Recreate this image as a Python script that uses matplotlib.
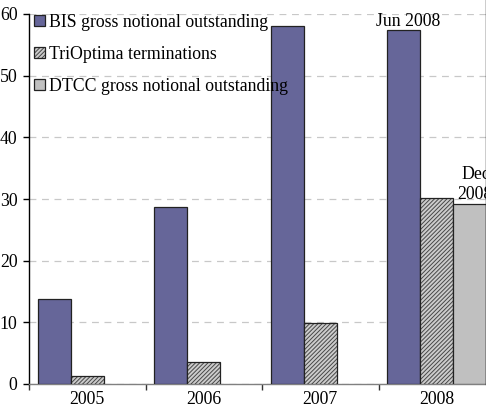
import matplotlib
matplotlib.use("Agg")
import matplotlib.pyplot as plt
import numpy as np
from matplotlib.lines import Line2D

plt.rcParams['font.family'] = ['Liberation Serif', 'DejaVu Serif']
plt.rcParams['hatch.linewidth'] = 0.7

years = ["2005", "2006", "2007", "2008"]
bis = [13.8, 28.7, 58.0, 57.4]
trioptima = [1.3, 3.6, 9.9, 30.2]
dtcc = [None, None, None, 29.2]
series_names = ["BIS gross notional outstanding", "TriOptima terminations",
                "DTCC gross notional outstanding"]
yticks = [0, 10, 20, 30, 40, 50, 60]

FS = 12.8

fig = plt.figure(figsize=(4.86, 4.17), dpi=100)
ax = fig.add_axes([29/486, 33/417, 466/486, 370/417])

x = np.arange(len(years))
w = 0.2833
b1 = ax.bar(x - w, bis, w, color='#666699', edgecolor='#222222', linewidth=0.9,
            label=series_names[0], zorder=3)
b2 = ax.bar(x, trioptima, w, color='#cccccc', edgecolor='#222222', linewidth=0.9,
            hatch='////////', label=series_names[1], zorder=3)
for p in b2:
    p._hatch_color = (0.28, 0.28, 0.28, 1.0)
dx = [i + w for i, v in enumerate(dtcc) if v is not None]
dv = [v for v in dtcc if v is not None]
b3 = ax.bar(dx, dv, w, color='#c0c0c0', edgecolor='#222222', linewidth=0.9,
            label=series_names[2], zorder=3)

ax.set_xlim(-0.5, 3.5)
ax.set_ylim(0, 60)
ax.set_yticks(yticks)
ax.set_yticklabels([str(t) for t in yticks], fontsize=FS)
ax.set_xticks(x)
ax.set_xticklabels(years, fontsize=FS)
ax.set_xticks(np.arange(-0.5, 3.6, 1.0), minor=True)
ax.tick_params(axis='x', which='major', length=0, pad=5)
ax.tick_params(axis='x', which='minor', length=4, width=1, color='#333333', direction='out')
ax.tick_params(axis='y', length=4.3, width=1, direction='out', pad=4)

ax.yaxis.grid(True, color='#c8c8c8', linestyle=(0, (5.5, 4.5)), linewidth=0.9, zorder=0)
ax.set_axisbelow(True)
for s in ['top', 'right']:
    ax.spines[s].set_visible(False)
ax.spines['left'].set_color('black')
ax.spines['left'].set_linewidth(1.0)
ax.spines['bottom'].set_color('#808080')
ax.spines['bottom'].set_linewidth(1.0)

ax.annotate("Jun 2008", xy=(3 - w, bis[3]), xytext=(3, 0), textcoords='offset points',
            ha='center', va='bottom', fontsize=FS)
ax.annotate("Dec\n2008", xy=(3 + w, dtcc[3]), xytext=(4, 1), textcoords='offset points',
            ha='center', va='bottom', fontsize=FS, linespacing=1.2)

leg = ax.legend(loc='upper left', bbox_to_anchor=(-0.012, 1.03), frameon=False,
                fontsize=FS, handlelength=0.6, handleheight=0.6,
                handletextpad=0.25, labelspacing=0.85, borderaxespad=0.2)

fig.add_artist(Line2D([485.5/486, 485.5/486], [33/417, 1.0], color='black', linewidth=1.0))

fig.savefig("out.png", dpi=100)
